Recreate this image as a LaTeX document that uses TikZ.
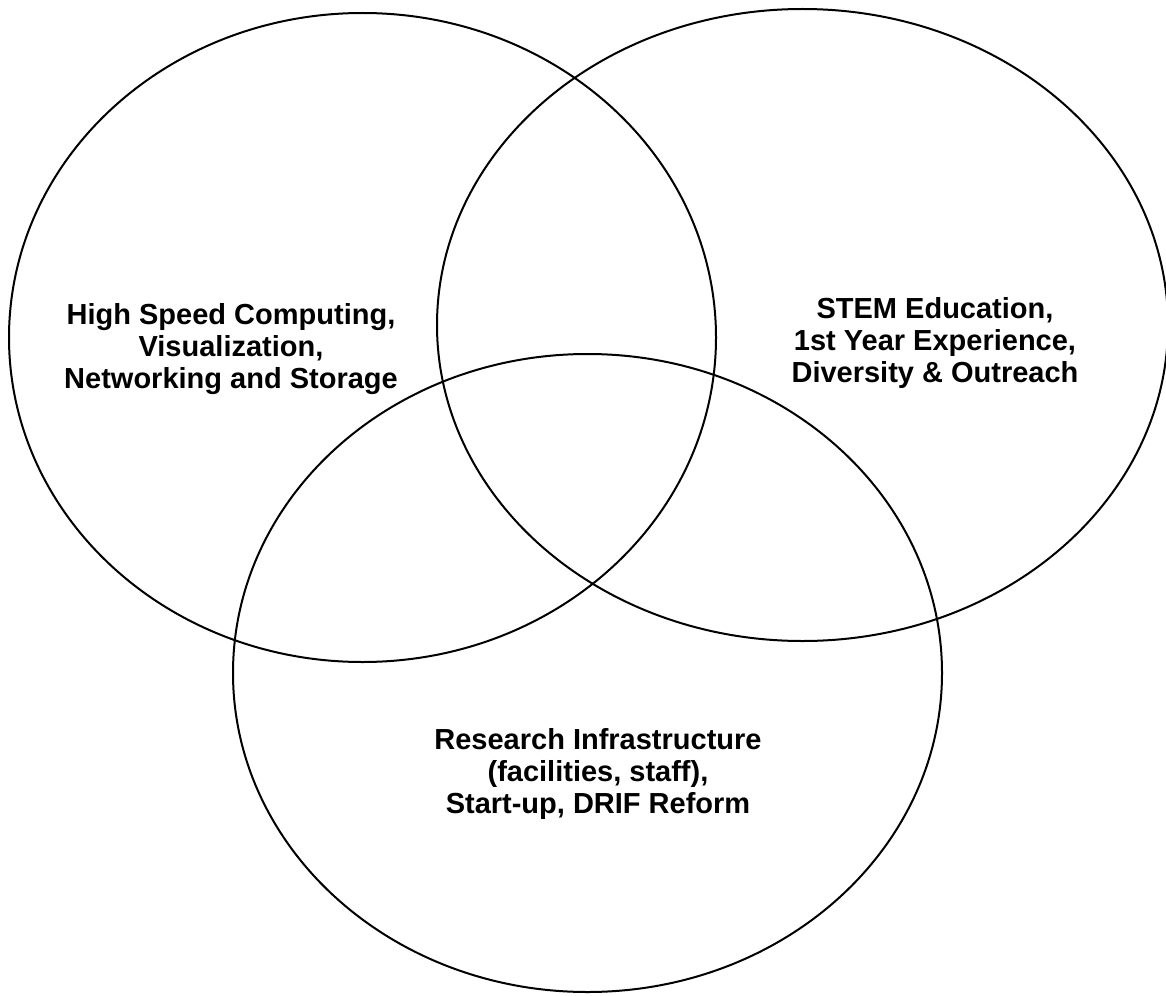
\documentclass[tikz,border=0pt]{standalone}
\usepackage{fontspec}
\setmainfont{Liberation Sans}
\usetikzlibrary{shapes.geometric}
\begin{document}
\begin{tikzpicture}[x=1pt,y=-1pt,
  venn/.style={draw=black, line width=2pt, ellipse, inner sep=0pt, fill=none},
  lbl/.style={align=center, font=\fontsize{29}{32}\selectfont\bfseries, inner sep=0pt}]
\useasboundingbox (0,0) rectangle (1166,995);
\node[venn, minimum width=707pt, minimum height=649pt] (left) at (362.5,337.5) {};
\node[venn, minimum width=731pt, minimum height=632pt] (right) at (802.5,325) {};
\node[venn, minimum width=709pt, minimum height=638pt] (bottom) at (587.5,673) {};
\node[lbl] (lefttext) at (231,349) {High Speed Computing,\\Visualization,\\Networking and Storage};
\node[lbl] (righttext) at (935,343) {STEM Education,\\1st Year Experience,\\Diversity \& Outreach};
\node[lbl] (bottomtext) at (598,774) {Research Infrastructure\\(facilities, staff),\\Start-up, DRIF Reform};
\end{tikzpicture}
\end{document}
